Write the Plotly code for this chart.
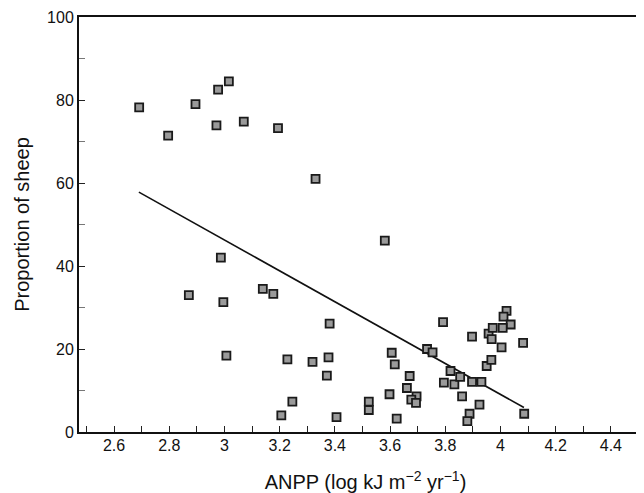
import plotly.graph_objects as go

# Scatter data: ANPP (log kJ m-2 yr-1) vs proportion of sheep (%)
anpp = [3.016, 2.977, 2.691, 2.895, 2.971, 3.070, 2.796, 3.194, 3.330, 2.987,
        3.139, 3.177, 2.871, 2.996, 3.381, 3.007, 3.228, 3.319, 3.377, 3.371,
        3.246, 3.206, 3.406, 3.523, 3.523, 3.581, 3.606, 3.617, 3.598, 3.624,
        3.671, 3.661, 3.696, 3.677, 3.694, 3.792, 3.734, 3.754, 3.819, 3.795,
        3.833, 3.854, 3.861, 3.897, 3.897, 3.931, 3.924, 3.888, 3.880, 3.950,
        3.967, 3.957, 3.968, 3.972, 4.022, 4.011, 4.037, 4.008, 4.004, 4.082,
        4.086]
sheep = [84.5, 82.5, 78.2, 79.0, 73.9, 74.8, 71.4, 73.2, 61.0, 42.0,
         34.5, 33.3, 33.0, 31.3, 26.1, 18.4, 17.5, 16.9, 18.0, 13.6,
         7.3, 4.0, 3.6, 7.3, 5.3, 46.1, 19.1, 16.3, 9.1, 3.2,
         13.5, 10.6, 8.6, 7.8, 7.0, 26.5, 20.0, 19.2, 14.7, 11.9,
         11.5, 13.3, 8.6, 23.0, 12.1, 12.1, 6.6, 4.4, 2.6, 15.9,
         17.4, 23.7, 22.4, 25.1, 29.2, 27.8, 25.9, 25.1, 20.4, 21.5,
         4.4]

# Fitted regression line endpoints
fit_x = [2.69, 4.085]
fit_y = [57.8, 5.9]

x_tickvals = [2.6, 2.8, 3.0, 3.2, 3.4, 3.6, 3.8, 4.0, 4.2, 4.4]
x_ticktext = ["2.6", "2.8", "3", "3.2", "3.4", "3.6", "3.8", "4", "4.2", "4.4"]
y_tickvals = [0, 20, 40, 60, 80, 100]

fig = go.Figure()
fig.add_trace(go.Scatter(
    x=fit_x, y=fit_y, mode="lines",
    line=dict(color="#111111", width=1.6),
    hoverinfo="skip", showlegend=False))
fig.add_trace(go.Scatter(
    x=anpp, y=sheep, mode="markers",
    marker=dict(symbol="square", size=8, color="#9a9a9a",
                line=dict(color="#1a1a1a", width=1.8)),
    showlegend=False))

font_family = "Liberation Sans, Arial, Helvetica, sans-serif"

fig.update_layout(
    width=644, height=493,
    margin=dict(l=71, r=0, t=9, b=69),
    paper_bgcolor="white", plot_bgcolor="white",
    font=dict(family=font_family, color="#111111", size=16),
    xaxis=dict(
        range=[2.473, 4.549],
        tickvals=x_tickvals, ticktext=x_ticktext,
        ticks="inside", ticklen=6, tickwidth=1.2, tickcolor="#222222",
        minor=dict(dtick=0.1, tick0=2.5, ticks="inside", ticklen=6,
                   tickwidth=1.2, tickcolor="#222222", showgrid=False),
        showline=True, linecolor="#111111", linewidth=2, mirror=True,
        showgrid=False, zeroline=False,
        tickfont=dict(size=16),
        ticklabelstandoff=-2,
        title=dict(text="ANPP (log kJ m<sup>−2</sup> yr<sup>−1</sup>)",
                   font=dict(size=20), standoff=22),
    ),
    yaxis=dict(
        range=[0, 100],
        tickvals=y_tickvals,
        ticks="inside", ticklen=6, tickwidth=1.2, tickcolor="#222222",
        minor=dict(dtick=10, tick0=0, ticks="inside", ticklen=6,
                   tickwidth=1.2, tickcolor="#777777", showgrid=False),
        showline=True, linecolor="#111111", linewidth=2,
        showgrid=False, zeroline=False,
        tickfont=dict(size=16),
        ticklabelstandoff=0,
        title=dict(text="Proportion of sheep", font=dict(size=20), standoff=12),
    ),
)

fig.write_html("out.html")
